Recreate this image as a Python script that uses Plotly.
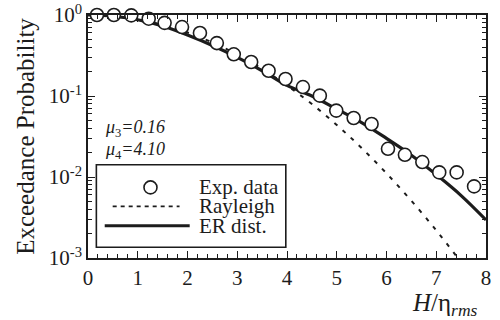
import plotly.graph_objects as go

# ---- data ----
x_exp = [0.18, 0.52, 0.87, 1.22, 1.54, 1.89, 2.25, 2.59, 2.93, 3.28, 3.63, 3.97,
         4.32, 4.66, 4.99, 5.34, 5.70, 6.03, 6.37, 6.72, 7.06, 7.41, 7.76]
y_exp = [1.0, 1.0, 0.99, 0.90, 0.80, 0.71, 0.60, 0.45, 0.327, 0.263, 0.205, 0.162,
         0.129, 0.101, 0.066, 0.0535, 0.0451, 0.0223, 0.0188, 0.0153, 0.0114, 0.0114, 0.00766]

x_ray = [0, 0.5, 1.0, 1.5, 2.0, 2.5, 3.0, 3.5, 4.0, 4.5, 5.0, 5.5, 6.0, 6.5, 7.0, 7.43]
y_ray = [1.0, 0.969, 0.882, 0.755, 0.607, 0.458, 0.325, 0.216, 0.135, 0.0796, 0.0439,
         0.0228, 0.0111, 0.00509, 0.00219, 0.00101]

x_er = [0, 0.5, 1.0, 1.5, 2.0, 2.5, 3.0, 3.5, 4.0, 4.5, 5.0, 5.5, 6.0, 6.5, 7.0, 7.5, 8.0]
y_er = [1.0, 0.965, 0.875, 0.73, 0.565, 0.42, 0.30, 0.205, 0.135, 0.100, 0.069, 0.047,
        0.030, 0.0186, 0.0107, 0.0059, 0.00295]

legend_labels = ["Exp. data", "Rayleigh", "ER dist."]
y_tickvals = [1, 0.1, 0.01, 0.001]
y_ticktext = ["10<sup>0</sup>", "10<sup>-1</sup>", "10<sup>-2</sup>", "10<sup>-3</sup>"]
x_tickvals = [0, 1, 2, 3, 4, 5, 6, 7, 8]
stats_text = ["<i>μ</i><sub>3</sub><i>=0.16</i>", "<i>μ</i><sub>4</sub><i>=4.10</i>"]

INK = "#1c1c1c"
FONT = "Liberation Serif, Times New Roman, serif"

fig = go.Figure()
fig.add_trace(go.Scatter(x=x_ray, y=y_ray, mode="lines", line_shape="spline",
                         line=dict(color=INK, width=2, dash="4px,7px"),
                         name=legend_labels[1], showlegend=False))
fig.add_trace(go.Scatter(x=x_er, y=y_er, mode="lines", line_shape="spline",
                         line=dict(color=INK, width=3.2),
                         name=legend_labels[2], showlegend=False))
fig.add_trace(go.Scatter(x=x_exp, y=y_exp, mode="markers", cliponaxis=False,
                         marker=dict(symbol="circle", size=13, color="white",
                                     line=dict(color=INK, width=1.6)),
                         name=legend_labels[0], showlegend=False))

fig.update_xaxes(range=[0, 8], tickvals=x_tickvals, ticks="inside", ticklen=7,
                 tickwidth=1.3, tickcolor=INK, showline=True, linecolor=INK,
                 linewidth=1.6, mirror="ticks", showgrid=False, zeroline=False,
                 automargin=False,
                 tickfont=dict(family=FONT, size=21, color=INK),
                 minor=dict(dtick=0.2, ticks="inside", ticklen=4, tickcolor=INK,
                            tickwidth=1, showgrid=False))
fig.update_yaxes(type="log", range=[-3, 0], tickvals=y_tickvals, ticktext=y_ticktext,
                 ticks="inside", ticklen=7, tickwidth=1.3, tickcolor=INK,
                 showline=True, linecolor=INK, linewidth=1.6, mirror="ticks",
                 showgrid=False, zeroline=False, automargin=False,
                 tickfont=dict(family=FONT, size=21, color=INK),
                 minor=dict(dtick="D1", ticks="inside", ticklen=4, tickcolor=INK,
                            tickwidth=1, showgrid=False),
                 title=dict(text="Exceedance Probability", standoff=7,
                            font=dict(family=FONT, size=25, color=INK)))

# legend drawn as a framed box in paper coordinates
shapes = [
    dict(type="rect", xref="paper", yref="paper", x0=0.021, x1=0.497, y0=0.044, y1=0.384,
         line=dict(color=INK, width=1.6), fillcolor="white", layer="above"),
    dict(type="circle", xref="paper", yref="paper", xsizemode="pixel", ysizemode="pixel",
         xanchor=0.157, yanchor=0.2905, x0=-6.5, x1=6.5, y0=-6.5, y1=6.5,
         line=dict(color=INK, width=1.6), fillcolor="white", layer="above"),
    dict(type="line", xref="paper", yref="paper", x0=0.062, x1=0.230, y0=0.2123, y1=0.2123,
         line=dict(color=INK, width=1.6, dash="4px,4px"), layer="above"),
    dict(type="line", xref="paper", yref="paper", x0=0.042, x1=0.2555, y0=0.133, y1=0.133,
         line=dict(color=INK, width=3), layer="above"),
]
annotations = []
for lbl, yy in zip(legend_labels, [0.2905, 0.2123, 0.133]):
    annotations.append(dict(text=lbl, xref="paper", yref="paper", x=0.2736, y=yy,
                            xanchor="left", yanchor="middle", showarrow=False,
                            font=dict(family=FONT, size=21, color=INK)))
for txt, yy in zip(stats_text, [0.532, 0.4416]):
    annotations.append(dict(text=txt, xref="paper", yref="paper", x=0.037, y=yy,
                            xanchor="left", yanchor="middle", showarrow=False,
                            font=dict(family=FONT, size=18, color=INK)))
annotations.append(dict(text="<i>H</i>/η<sub><i>rms</i></sub>", xref="paper", yref="paper",
                        x=0.985, y=-0.19, xanchor="right", yanchor="middle",
                        showarrow=False, font=dict(family=FONT, size=25, color=INK)))

fig.update_layout(width=500, height=320, margin=dict(l=88, r=14, t=15, b=62),
                  paper_bgcolor="white", plot_bgcolor="white",
                  shapes=shapes, annotations=annotations, showlegend=False)

fig.write_html("out.html")
